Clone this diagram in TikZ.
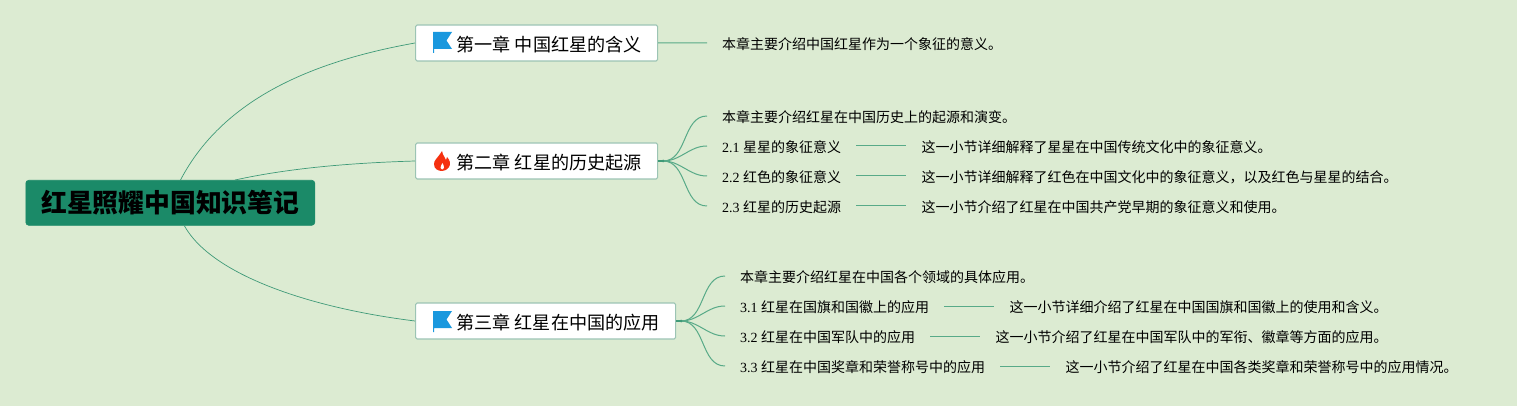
\documentclass[tikz,border=0pt]{standalone}
\usepackage{fontspec}
\setmainfont{Liberation Serif}
\newfontfamily\cjk{Noto Sans CJK SC}
\usetikzlibrary{positioning}

\definecolor{paper}{HTML}{DCEBD2}
\definecolor{rootgreen}{HTML}{1B8A68}
\definecolor{boxedge}{HTML}{9CC4B4}
\definecolor{linegreen}{HTML}{3F9A78}
\definecolor{twiggreen}{HTML}{58AA88}
\definecolor{flagblue}{HTML}{1A98DE}
\definecolor{flamered}{HTML}{F5300F}

\begin{document}
\begin{tikzpicture}[x=1pt, y=-1pt]

% --- Define reusable styles ---
\tikzset{
    rootbox/.style={draw=rootgreen, fill=rootgreen, rounded corners=3pt, line width=0.6pt,
        minimum width=289pt, minimum height=45pt, inner sep=0pt,
        font=\fontsize{25.8}{30}\selectfont\cjk\bfseries},
    chapterbox/.style={draw=boxedge, fill=white, rounded corners=1.5pt, line width=1.2pt,
        minimum height=36pt, inner sep=0pt, anchor=north west,
        text height=20pt, text depth=3pt,
        font=\fontsize{18.1}{20}\selectfont\cjk},
    leaf/.style={anchor=west, inner xsep=15pt, inner ysep=0pt, minimum height=16pt,
        text height=15pt, text depth=2.4pt,
        font=\fontsize{14}{16}\selectfont\cjk},
    hubdot/.style={circle, fill=linegreen, inner sep=0pt, minimum size=3pt},
    hubstem/.style={draw=linegreen, line width=1.8pt},
    branch/.style={draw=linegreen, line width=0.7pt},
    twig/.style={draw=twiggreen, line width=1pt},
    flagicon/.pic={
        \fill[flagblue] (0,0) -- (19,0) -- (13.5,8.5) -- (19,17) -- (1,17) -- (1,21) -- (0,21) -- cycle;
    },
    flameicon/.pic={
        \fill[flamered] (9,0) .. controls (10,5) and (12,6) .. (13,9)
            .. controls (14,8) and (14,7) .. (14,6) .. controls (17,9) and (18,13) .. (16,16)
            .. controls (14,19) and (11,20) .. (9,20) .. controls (5,20) and (1,18) .. (1,13)
            .. controls (1,9) and (4,8) .. (9,0) -- cycle;
        \fill[white] (9.5,12) .. controls (10,14) and (11.5,15) .. (11,17)
            .. controls (10.5,19) and (8,19) .. (7.5,17) .. controls (7,15.5) and (9,14) .. (9.5,12) -- cycle;
    }
}

% Background and page size
\fill[paper] (0,0) rectangle (1517,406);
\useasboundingbox (0,0) rectangle (1517,406);

% 1. Central topic
\node[rootbox, anchor=north west] (root) at (25.5,180) {红星照耀中国知识笔记};

% 2. The three chapters
\node[chapterbox, minimum width=242pt] (chone) at (415,24.4) {\hspace*{25pt}第一章 中国红星的含义};
\node[chapterbox, minimum width=242pt] (chtwo) at (415,142.4) {\hspace*{25pt}第二章 红星的历史起源};
\node[chapterbox, minimum width=260pt] (chthree) at (415,302.4) {\hspace*{25pt}第三章 红星在中国的应用};

% Icons
\pic at (433,32) {flagicon};
\pic at (433,151) {flameicon};
\pic at (433,311) {flagicon};

% 3. Where the branches leave the central topic
\coordinate (rootone) at (180.5,180);
\coordinate (roottwo) at (235,180);
\coordinate (rootthree) at (184.5,226);

\draw[branch] (rootone) .. controls (225,95) and (320,60) .. (chone.west);
\draw[branch] (roottwo) .. controls (290,168) and (350,163) .. (chtwo.west);
\draw[branch] (rootthree) .. controls (212,275) and (310,308) .. (chthree.west);

% 4. Chapter one
\node[leaf] (oneinfo) at (707,43) {本章主要介绍中国红星作为一个象征的意义。};
\draw[twig] (chone.east) -- (oneinfo.west);

% 5. Chapter two
\node[leaf] (twoinfo) at (707,116) {本章主要介绍红星在中国历史上的起源和演变。};
\node[leaf] (twoa) at (707,146) {{\rmfamily 2.1 }星星的象征意义};
\node[leaf] (twob) at (707,176) {{\rmfamily 2.2 }红色的象征意义};
\node[leaf] (twoc) at (707,206) {{\rmfamily 2.3 }红星的历史起源};
\node[leaf, right=50pt of twoa] (twoatext) {这一小节详细解释了星星在中国传统文化中的象征意义。};
\node[leaf, right=50pt of twob] (twobtext) {这一小节详细解释了红色在中国文化中的象征意义，以及红色与星星的结合。};
\node[leaf, right=50pt of twoc] (twoctext) {这一小节介绍了红星在中国共产党早期的象征意义和使用。};

\coordinate (twohub) at (663,161);
\foreach \target in {twoinfo, twoa, twob, twoc} {
    \draw[twig] (twohub) to[out=0, in=180] (\target.west);
}
\foreach \target/\detail in {twoa/twoatext, twob/twobtext, twoc/twoctext} {
    \draw[twig] (\target.east) -- (\detail.west);
}
\draw[hubstem] (chtwo.east) -- (twohub);
\node[hubdot] (twodot) at (twohub) {};

% 6. Chapter three
\node[leaf] (threeinfo) at (725,276) {本章主要介绍红星在中国各个领域的具体应用。};
\node[leaf] (threea) at (725,306) {{\rmfamily 3.1 }红星在国旗和国徽上的应用};
\node[leaf] (threeb) at (725,336) {{\rmfamily 3.2 }红星在中国军队中的应用};
\node[leaf] (threec) at (725,366) {{\rmfamily 3.3 }红星在中国奖章和荣誉称号中的应用};
\node[leaf, right=50pt of threea] (threeatext) {这一小节详细介绍了红星在中国国旗和国徽上的使用和含义。};
\node[leaf, right=50pt of threeb] (threebtext) {这一小节介绍了红星在中国军队中的军衔、徽章等方面的应用。};
\node[leaf, right=50pt of threec] (threectext) {这一小节介绍了红星在中国各类奖章和荣誉称号中的应用情况。};

\coordinate (threehub) at (681,321);
\foreach \target in {threeinfo, threea, threeb, threec} {
    \draw[twig] (threehub) to[out=0, in=180] (\target.west);
}
\foreach \target/\detail in {threea/threeatext, threeb/threebtext, threec/threectext} {
    \draw[twig] (\target.east) -- (\detail.west);
}
\draw[hubstem] (chthree.east) -- (threehub);
\node[hubdot] (threedot) at (threehub) {};

\end{tikzpicture}
\end{document}
